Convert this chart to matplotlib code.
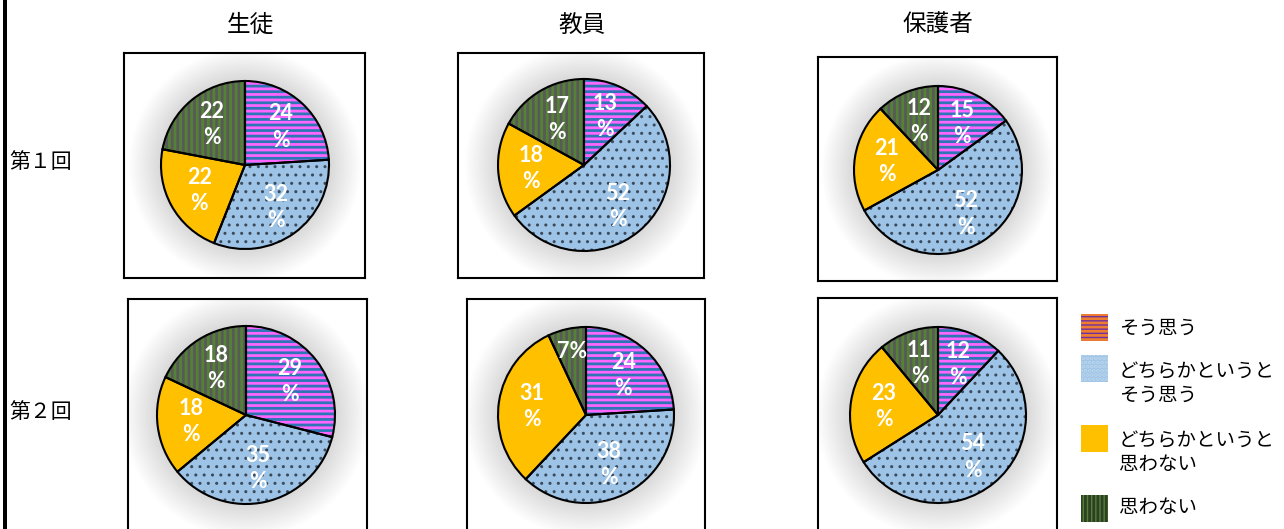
import matplotlib.pyplot as plt
import numpy as np
from matplotlib.patches import Rectangle, Circle

plt.rcParams['font.family'] = ['Noto Sans CJK JP', 'DejaVu Sans']
plt.rcParams['hatch.linewidth'] = 2.0

W, H = 1284, 529

# データ
groups = ['生徒', '教員', '保護者']
rounds = ['第１回', '第２回']
categories = ['そう思う', 'どちらかというと\nそう思う', 'どちらかというと\n思わない', '思わない']

round1_students = [24, 32, 22, 22]
round1_teachers = [13, 52, 18, 17]
round1_parents = [15, 52, 21, 12]
round2_students = [29, 35, 18, 18]
round2_teachers = [24, 38, 31, 7]
round2_parents = [12, 54, 23, 11]

values = [[round1_students, round1_teachers, round1_parents],
          [round2_students, round2_teachers, round2_parents]]

# 枠の位置 (left, top, right, bottom) ピクセル
frames = [[(124, 53, 365, 278), (458, 53, 704, 278), (818, 57, 1057, 281)],
          [(128, 299, 367, 560), (467, 299, 705, 560), (818, 298, 1057, 560)]]
# 円の中心と半径
centers = [[(245, 165, 84), (584, 165, 86), (938, 170, 84)],
           [(246, 415, 89), (586, 415, 88), (938, 415, 88)]]
title_x = [250, 582, 938]
row_y = [162, 412]

face = ['#FF66FF', '#9DC3E6', '#FFC000', '#595959']
hatch_col = ['#2E75B6', '#3B4A5A', '#FFC000', '#548235']
hatches = ['---', '..', '', '|||']
hatch_lw = [2.0, 1.0, 1.0, 2.0]


def draw_pie(ax, vals, cx, cy, r):
    y = H - cy
    # 影 (ぼかし)
    for k in range(22):
        ax.add_patch(Circle((cx, y), r * (1.38 - 0.02 * k), color='#808080',
                            alpha=0.014, lw=0, zorder=0))
    wedges, _ = ax.pie(vals, startangle=90, counterclock=False, center=(cx, y),
                       radius=r, colors=face, frame=True,
                       wedgeprops=dict(linewidth=0))
    for w, h, hc, hl in zip(wedges, hatches, hatch_col, hatch_lw):
        w.set_hatch(h)
        w.set_edgecolor(hc)
        if hasattr(w, 'set_hatch_linewidth'):
            w.set_hatch_linewidth(hl)
    ax.pie(vals, startangle=90, counterclock=False, center=(cx, y), radius=r,
           colors=['none'] * len(vals), frame=True,
           wedgeprops=dict(linewidth=1.5, edgecolor='black'))
    # ラベル
    for w, v in zip(wedges, vals):
        ang = np.deg2rad((w.theta1 + w.theta2) / 2)
        d = 0.62 if v >= 10 else 0.74
        txt = f'{v}\n%' if v >= 10 else f'{v}%'
        ax.text(cx + d * r * np.cos(ang), y + d * r * np.sin(ang), txt,
                ha='center', va='center', color='white', fontsize=15.5,
                fontweight='bold', family=['Lato', 'DejaVu Sans'],
                linespacing=1.3)


fig = plt.figure(figsize=(W / 100, H / 100), dpi=100)

for i in range(2):
    for j in range(3):
        L, T, R, B = frames[i][j]
        ax = fig.add_axes([L / W, 1 - B / H, (R - L) / W, (B - T) / H])
        cx, cy, r = centers[i][j]
        draw_pie(ax, values[i][j], cx, cy, r)
        ax.set_xlim(L, R)
        ax.set_ylim(H - B, H - T)
        ax.set_aspect('auto')
        ax.set_xticks([])
        ax.set_yticks([])
        for s in ax.spines.values():
            s.set_linewidth(1.5)
            s.set_color('black')

# 重ね描き用
ov = fig.add_axes([0, 0, 1, 1])
ov.set_xlim(0, W)
ov.set_ylim(H, 0)
ov.axis('off')

ov.add_patch(Rectangle((2.5, 0), 4.5, H, color='black', lw=0))
ov.text(135, 4, 'す。', fontsize=15, ha='left', va='bottom')

for x, g in zip(title_x, groups):
    ov.text(x, 25, g, fontsize=17, ha='center', va='center')
for y, rd in zip(row_y, rounds):
    ov.text(9, y, rd, fontsize=15, ha='left', va='center')

# 凡例
leg_y = [314, 355, 425, 495]
leg_text_y = [328, 384, 453, 508]
leg_face = ['#7030A0', '#9DC3E6', '#FFC000', '#548235']
leg_hcol = ['#ED7D31', '#BDD7EE', '#FFC000', '#2F3F25']
leg_hatch = ['----', '....', '', '||||']
for k, lab in enumerate(categories):
    ov.add_patch(Rectangle((1081, leg_y[k]), 27, 27, facecolor=leg_face[k],
                           edgecolor=leg_hcol[k], hatch=leg_hatch[k], lw=0))
    ov.text(1119, leg_text_y[k], lab, fontsize=14, ha='left', va='center',
            linespacing=1.15)

fig.savefig('out.png', dpi=100)
